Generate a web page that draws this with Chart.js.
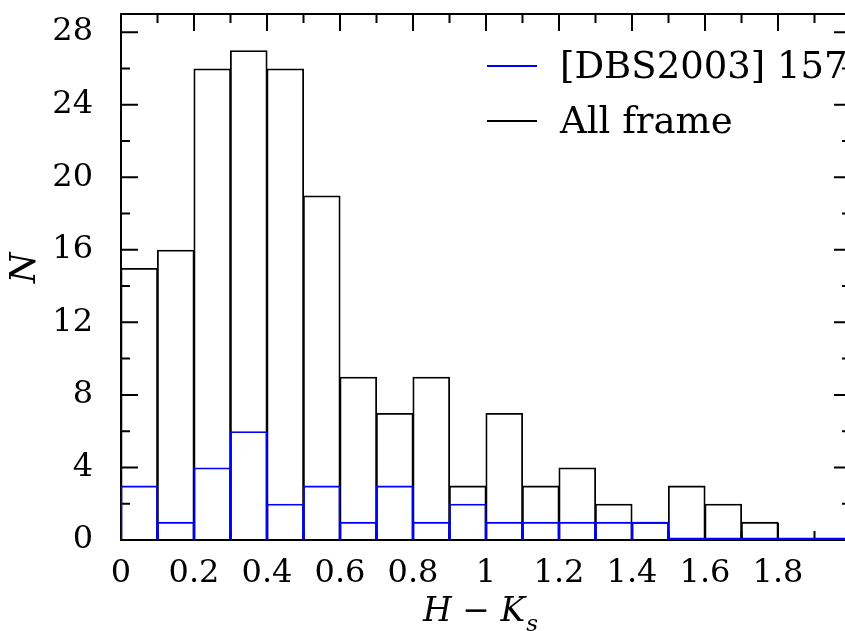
<!DOCTYPE html>
<html>
<head>
<meta charset="utf-8">
<script src="https://cdn.jsdelivr.net/npm/chart.js@4.4.1/dist/chart.umd.min.js"></script>
<style>
    html, body { margin: 0; padding: 0; background: #fff; }
    #wrap { width: 845px; height: 631px; overflow: hidden; position: relative; }
</style>
</head>
<body>
<div id="wrap"><canvas id="histo" width="880" height="631"></canvas></div>
<script>
// bin centres of H - Ks (bins 0.1 wide, 0 -> 2.0)
const binCentres = [0.05, 0.15, 0.25, 0.35, 0.45, 0.55, 0.65, 0.75, 0.85, 0.95,
                    1.05, 1.15, 1.25, 1.35, 1.45, 1.55, 1.65, 1.75, 1.85, 1.95];
const dbsCounts = [3, 1, 4, 6, 2, 3, 1, 3, 1, 2, 1, 1, 1, 1, 1, 0, 0, 0, 0, 0];
const allFrameCounts = [15, 16, 26, 27, 26, 19, 9, 7, 9, 3, 7, 3, 4, 2, 1, 3, 2, 1, 0, 0];
const xTickLabels = ['0', '0.2', '0.4', '0.6', '0.8', '1', '1.2', '1.4', '1.6', '1.8'];
const yTickLabels = ['0', '4', '8', '12', '16', '20', '24', '28'];
const seriesNames = ['[DBS2003] 157', 'All frame'];

const FONT = "'DejaVu Serif', 'Liberation Serif', serif";

const pontos = (valores) => binCentres.map((x, i) => ({ x: x, y: valores[i] }));

// moldura + ticks para dentro (estilo pgplot)
const moldura = {
    id: 'moldura',
    beforeDatasetsDraw(chart) {
        const { ctx, chartArea: a, scales: { x, y } } = chart;
        ctx.save();
        ctx.strokeStyle = '#000';
        ctx.lineWidth = 2;
        ctx.strokeRect(a.left, a.top, a.right - a.left, a.bottom - a.top);
        ctx.beginPath();
        for (let k = 0; k <= 20; k++) {
            const px = x.getPixelForValue(k / 10);
            const len = k % 2 === 0 ? 17 : 9;
            ctx.moveTo(px, a.bottom); ctx.lineTo(px, a.bottom - len);
            ctx.moveTo(px, a.top); ctx.lineTo(px, a.top + len);
        }
        for (let v = 0; v <= 28; v += 2) {
            const py = y.getPixelForValue(v);
            const len = v % 4 === 0 ? 17 : 9;
            ctx.moveTo(a.left, py); ctx.lineTo(a.left + len, py);
            ctx.moveTo(a.right, py); ctx.lineTo(a.right - len, py);
        }
        ctx.stroke();
        ctx.restore();
    },
    afterDraw(chart) {
        const { ctx, chartArea: a } = chart;
        ctx.save();
        ctx.fillStyle = '#000';

        // eixo y: N
        ctx.font = `italic 35px ${FONT}`;
        ctx.textAlign = 'center';
        ctx.textBaseline = 'middle';
        ctx.translate(26, a.top + 254);
        ctx.rotate(-Math.PI / 2);
        ctx.fillText('N', 0, 0);
        ctx.setTransform(1, 0, 0, 1, 0, 0);

        // eixo x: H - Ks
        ctx.textAlign = 'left';
        ctx.textBaseline = 'alphabetic';
        ctx.font = `italic 33px ${FONT}`;
        const main = 'H \u2212 K';
        const wMain = ctx.measureText(main).width;
        ctx.font = `italic 23px ${FONT}`;
        const wSub = ctx.measureText('s').width;
        let x0 = (a.left + a.right) / 2 - (wMain + wSub) / 2 - 6;
        ctx.font = `italic 33px ${FONT}`;
        ctx.fillText(main, x0, 621);
        ctx.font = `italic 23px ${FONT}`;
        ctx.fillText('s', x0 + wMain + 1, 631);

        // legenda
        ctx.font = `37px ${FONT}`;
        chart.data.datasets.forEach((ds, i) => {
            const yy = a.top + 52 + i * 55;
            ctx.strokeStyle = ds.borderColor;
            ctx.lineWidth = 2;
            ctx.beginPath();
            ctx.moveTo(a.right - 364, yy);
            ctx.lineTo(a.right - 314, yy);
            ctx.stroke();
            ctx.fillText(ds.label, a.right - 291, yy + 12);
        });
        ctx.restore();
    }
};

new Chart(document.getElementById('histo'), {
    type: 'bar',
    data: {
        datasets: [
            {
                label: seriesNames[0],
                data: pontos(dbsCounts),
                backgroundColor: 'rgba(0,0,0,0)',
                borderColor: '#0000ff',
                borderWidth: 1.8,
                inflateAmount: 0,
                minBarLength: 2.5,
                borderSkipped: c => (c.raw && c.raw.y === 0) ? false : 'start'
            },
            {
                label: seriesNames[1],
                data: pontos(allFrameCounts),
                backgroundColor: 'rgba(0,0,0,0)',
                borderColor: '#000000',
                borderWidth: 1.8,
                inflateAmount: 0
            }
        ]
    },
    options: {
        responsive: false,
        animation: false,
        events: [],
        grouped: false,
        // um pouco acima de 1 para as bordas vizinhas se sobreporem
        barPercentage: 1.03,
        categoryPercentage: 1,
        layout: { padding: { top: 14, right: 29, left: 0, bottom: 0 } },
        plugins: { legend: { display: false }, tooltip: { enabled: false } },
        scales: {
            x: {
                type: 'linear',
                min: 0,
                max: 2,
                offset: false,
                grid: { display: false, drawTicks: false, offset: false },
                border: { display: false },
                ticks: {
                    stepSize: 0.2,
                    padding: 14,
                    color: '#000',
                    font: { family: FONT, size: 32 },
                    maxRotation: 0,
                    autoSkip: false,
                    callback: (v) => xTickLabels[Math.round(v * 5)] || ''
                },
                afterFit: s => { s.height = 91; s.paddingLeft = 0; s.paddingRight = 0; }
            },
            y: {
                min: 0,
                max: 29,
                grid: { display: false, drawTicks: false },
                border: { display: false },
                ticks: {
                    stepSize: 4,
                    includeBounds: false,
                    padding: 28,
                    color: '#000',
                    font: { family: FONT, size: 32 },
                    callback: (v) => (v % 4 === 0 ? yTickLabels[v / 4] : '') || ''
                },
                afterFit: s => { s.width = 121; s.paddingTop = 0; s.paddingBottom = 0; }
            }
        }
    },
    plugins: [moldura]
});
</script>
</body>
</html>
